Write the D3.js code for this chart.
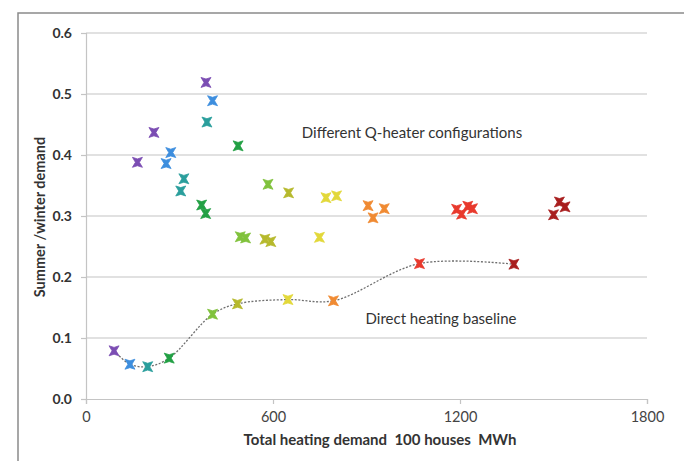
<!DOCTYPE html>
<html>
<head>
<meta charset="utf-8">
<script src="https://cdn.jsdelivr.net/npm/d3@7"></script>
<style>
  body { margin: 0; background: #fff; }
  svg { display: block; font-family: Lato, "Open Sans", sans-serif; }
</style>
</head>
<body>
<div id="chart"></div>
<script>
// colour groups, purple -> dark red
const groupColors = ["#7b4db3", "#3d8ede", "#2a9e9c", "#22a044", "#80c23c",
                     "#b6b92c", "#e2d83a", "#f08a32", "#e8392c", "#a81e1e"];

// Q-heater configurations
const qX = [385, 218, 165, 406, 272, 257, 388, 314, 304, 488, 371, 384,
            584, 495, 512, 650, 574, 593, 770, 804, 749, 905, 921, 957,
            1189, 1205, 1225, 1240, 1500, 1519, 1537];
const qY = [0.519, 0.437, 0.388, 0.489, 0.404, 0.386, 0.454, 0.361, 0.341, 0.415, 0.318, 0.304,
            0.352, 0.266, 0.264, 0.338, 0.262, 0.258, 0.330, 0.333, 0.265, 0.317, 0.297, 0.312,
            0.311, 0.303, 0.316, 0.312, 0.302, 0.323, 0.315];
const qGroup = [0, 0, 0, 1, 1, 1, 2, 2, 2, 3, 3, 3,
                4, 4, 4, 5, 5, 5, 6, 6, 6, 7, 7, 7,
                8, 8, 8, 8, 9, 9, 9];

// direct heating baseline
const baseX = [90, 141, 198, 267, 406, 486, 648, 794, 1070, 1373];
const baseY = [0.079, 0.057, 0.053, 0.067, 0.139, 0.156, 0.163, 0.161, 0.222, 0.221];
const baseGroup = [0, 1, 2, 3, 4, 5, 6, 7, 8, 9];

const xTicks = [0, 600, 1200, 1800];
const yTicks = [0, 0.1, 0.2, 0.3, 0.4, 0.5, 0.6];

const W = 684, H = 461;
const plot = { left: 86, right: 647, top: 33, bottom: 399 };

const svg = d3.select("#chart").append("svg")
  .attr("width", W).attr("height", H);

// outer frame
svg.append("rect")
  .attr("x", 18).attr("y", 13)
  .attr("width", 720).attr("height", 500)
  .attr("fill", "#fff")
  .attr("stroke", "#8a8a8a").attr("stroke-width", 1.5);

const x = d3.scaleLinear().domain([0, 1800]).range([plot.left, plot.right]);
const y = d3.scaleLinear().domain([0, 0.6]).range([plot.bottom, plot.top]);

// gridlines
svg.append("g")
  .selectAll("line")
  .data(yTicks.filter(d => d > 0))
  .enter().append("line")
  .attr("x1", plot.left).attr("x2", plot.right)
  .attr("y1", d => y(d)).attr("y2", d => y(d))
  .attr("stroke", "#c4c4c4").attr("stroke-width", 1.2);

// y axis
const yAxis = svg.append("g")
  .attr("transform", `translate(${plot.left},0)`)
  .call(d3.axisLeft(y).tickValues(yTicks).tickFormat(d3.format(".1f")).tickSize(5).tickPadding(9));
yAxis.select(".domain").attr("stroke", "#c4c4c4").attr("stroke-width", 1.2);
yAxis.selectAll(".tick line").attr("stroke", "#c4c4c4").attr("stroke-width", 1.2);
yAxis.selectAll("text")
  .attr("fill", "#333").style("font-size", "14px").style("font-weight", "bold")
  .style("font-family", "Lato, sans-serif");

// x axis
const xAxis = svg.append("g")
  .attr("transform", `translate(0,${plot.bottom})`)
  .call(d3.axisBottom(x).tickValues(xTicks).tickFormat(d3.format("d")).tickSize(5).tickPadding(8));
xAxis.select(".domain").attr("stroke", "#c4c4c4").attr("stroke-width", 1.2);
xAxis.selectAll(".tick line").attr("stroke", "#c4c4c4").attr("stroke-width", 1.2);
xAxis.selectAll("text")
  .attr("fill", "#444").style("font-size", "14.5px")
  .style("font-family", "Lato, sans-serif");

// axis titles
svg.append("text")
  .attr("x", 380).attr("y", 445)
  .attr("text-anchor", "middle")
  .attr("fill", "#333")
  .style("font-size", "15px").style("font-weight", "bold")
  .attr("xml:space", "preserve")
  .text("Total heating demand  100 houses  MWh");

svg.append("text")
  .attr("transform", "translate(45,217) rotate(-90)")
  .attr("text-anchor", "middle")
  .attr("fill", "#333")
  .style("font-size", "14.5px").style("font-weight", "bold")
  .text("Summer /winter demand");

// baseline smoothed dashed line
const base = baseX.map((d, i) => ({ x: d, y: baseY[i], g: baseGroup[i] }));
svg.append("path")
  .datum(base)
  .attr("fill", "none")
  .attr("stroke", "#6e6e6e")
  .attr("stroke-width", 1.3)
  .attr("stroke-dasharray", "2,1.6")
  .attr("d", d3.line().x(d => x(d.x)).y(d => y(d.y)).curve(d3.curveCatmullRom.alpha(0.5)));

// X-like marker
const marker = "M-5,-5 L0,-3.4 L5,-5 L2,0 L5,5 L0,3.4 L-5,5 L-2,0 Z";

const qPts = qX.map((d, i) => ({ x: d, y: qY[i], g: qGroup[i] }));
svg.append("g")
  .selectAll("path")
  .data(qPts.concat(base))
  .enter().append("path")
  .attr("d", marker)
  .attr("transform", d => `translate(${x(d.x)},${y(d.y)})`)
  .attr("fill", d => groupColors[d.g])
  .attr("stroke", d => groupColors[d.g])
  .attr("stroke-width", 0.8)
  .attr("stroke-linejoin", "round");

// annotations
svg.append("text")
  .attr("x", 412).attr("y", 138)
  .attr("text-anchor", "middle")
  .attr("fill", "#333")
  .style("font-size", "15px")
  .text("Different Q-heater configurations");

svg.append("text")
  .attr("x", 441).attr("y", 324)
  .attr("text-anchor", "middle")
  .attr("fill", "#333")
  .style("font-size", "15px")
  .text("Direct heating baseline");
</script>
</body>
</html>
